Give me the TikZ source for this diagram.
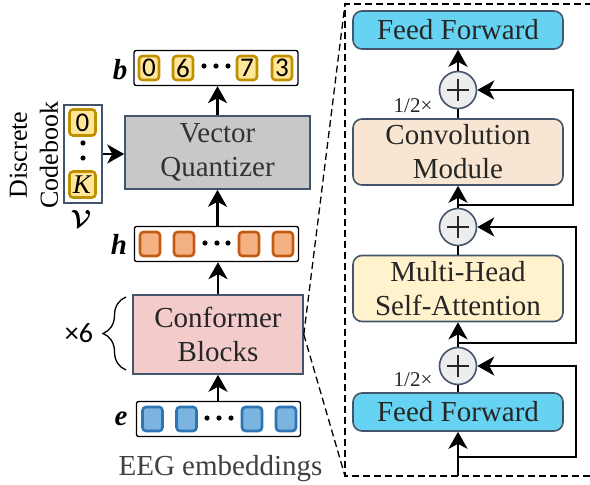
\documentclass[tikz,border=0pt]{standalone}
\usepackage{fontspec}
\usepackage{amsmath,bm}
\setmainfont{Liberation Serif}
\newfontfamily\digitfont{Carlito}
\usetikzlibrary{arrows.meta,decorations.pathreplacing,positioning}

\definecolor{edgeblue}{HTML}{44546A}
\definecolor{txtdark}{HTML}{262626}
\definecolor{ffcyan}{HTML}{66D3F3}
\definecolor{convpeach}{HTML}{F8E6D2}
\definecolor{attnyellow}{HTML}{FFF2CC}
\definecolor{vqgray}{HTML}{C8C8C8}
\definecolor{confpink}{HTML}{F3CBCB}
\definecolor{sumgray}{HTML}{EDEDED}
\definecolor{goldfill}{HTML}{FFE699}
\definecolor{goldedge}{HTML}{BF9000}
\definecolor{orafill}{HTML}{F4B183}
\definecolor{oraedge}{HTML}{C55A11}
\definecolor{bluefill}{HTML}{7AB4DF}
\definecolor{blueedge}{HTML}{2E75B6}

\newcommand\bigfont{\fontsize{29}{34}\selectfont}
\newcommand\tokfont{\digitfont\fontsize{27}{30}\selectfont}

\begin{document}
\begin{tikzpicture}[x=1pt,y=-1pt,
    flow/.style={-{Stealth[length=17pt,width=19pt,inset=5pt]}, line width=2.6pt},
    link/.style={line width=2.2pt},
    block/.style={draw=edgeblue, line width=1.6pt, align=center, inner sep=0pt, font=\bigfont, text=txtdark},
    modbox/.style={block, rounded corners=9pt, minimum width=210pt},
    ffbox/.style={modbox, fill=ffcyan, minimum height=38pt},
    convbox/.style={modbox, fill=convpeach, minimum height=66pt},
    attnbox/.style={modbox, fill=attnyellow, minimum height=66pt},
    sumc/.style={circle, draw=edgeblue, fill=sumgray, line width=1.6pt, minimum size=37pt, inner sep=0pt,
        path picture={\draw[line width=1.1pt, txtdark] (path picture bounding box.center) +(-11pt,0) -- +(11pt,0) +(0,-11pt) -- +(0,11pt);}},
    rowbox/.style={draw=black, line width=1.3pt, rounded corners=2pt, minimum width=164pt, minimum height=35pt, inner sep=0pt},
    tok/.style={rounded corners=3.5pt, line width=2.6pt, minimum width=20pt, minimum height=24pt, inner sep=0pt},
    goldtok/.style={tok, draw=goldedge, fill=goldfill, font=\tokfont},
    oratok/.style={tok, draw=oraedge, fill=orafill},
    bluetok/.style={tok, draw=blueedge, fill=bluefill},
    zoomline/.style={line width=1.3pt, dash pattern=on 7pt off 4pt}]

    \useasboundingbox (0,0) rectangle (590,485);

    % 虚线框的四个角
    \coordinate (dtl) at (345,4);
    \coordinate (dbl) at (345,476);
    \coordinate (dtr) at (592,4);
    \coordinate (dbr) at (592,476);

    % === 左侧：主干 ===
    \node[block, fill=confpink, minimum width=170pt, minimum height=79pt] (conf) at (218,334.5) {Conformer\\Blocks};
    \node[block, fill=vqgray, minimum width=185pt, minimum height=73pt, text=black!80] (vq) at (217.5,152.5) {Vector\\Quantizer};

    % 放大虚线
    \draw[zoomline] (dtr) -- (dtl) -- (dbl) -- (dbr);
    \draw[zoomline] (conf.east) -- (dtl);
    \draw[zoomline] (conf.east) -- (dbl);

    % 三行向量
    \node[rowbox] (brow) at (216,68) {};
    \node[rowbox] (hrow) at (216.5,244) {};
    \node[rowbox] (erow) at (218.5,419) {};
    \foreach \x/\d [count=\i] in {149/0,183/6,247/7,282/3}
        \node[goldtok] (b\i) at (\x,68) {\d};
    \foreach \x [count=\i] in {150,184,249,283}
        \node[oratok] (h\i) at (\x,244) {};
    \foreach \x [count=\i] in {152.5,186.5,252,286}
        \node[bluetok] (e\i) at (\x,419) {};
    \foreach \x in {204,216,228} \fill (\x,66) circle (2.6pt);
    \foreach \x in {205,217,228} \fill (\x,243) circle (2.6pt);
    \foreach \x in {207,219,231} \fill (\x,418) circle (2.6pt);

    \node[font=\bigfont] (blab) at (120,70) {\textbf{\textit{b}}};
    \node[font=\bigfont] (hlab) at (119,244) {\textbf{\textit{h}}};
    \node[font=\bigfont] (elab) at (121,419) {\textbf{\textit{e}}};
    \node[font=\bigfont, text=black!75, anchor=base] (eeg) at (220.5,475) {EEG embeddings};

    % 码本
    \node[draw=edgeblue, line width=1.4pt, minimum width=38pt, minimum height=98pt, inner sep=0pt] (book) at (83,154) {};
    \node[goldtok, minimum width=26pt, minimum height=26pt, font=\fontsize{27}{30}\selectfont] (c0) at (82.5,122.5) {\digitfont 0};
    \node[goldtok, minimum width=26pt, minimum height=26pt, font=\fontsize{27}{30}\selectfont] (cK) at (82.5,184.5) {\textit{K}};
    \fill (83,143) circle (2.6pt);
    \fill (83,158) circle (2.6pt);
    \node[rotate=90, align=center, font=\fontsize{26}{31}\selectfont] (booklab) at (34,155) {Discrete\\Codebook};
    \node[font=\fontsize{29}{30}\selectfont] (vlab) at (81,219) {$\boldsymbol{\mathcal{V}}$};

    % ×6 括号
    \draw[decorate, decoration={brace, amplitude=23pt}, line width=1.3pt] (126,370) -- (126,297);
    \node[font=\digitfont\fontsize{28}{30}\selectfont] (times) at (79,333) {×6};

    % 左侧箭头
    \draw[flow] (erow.north -| conf.south) -- (conf.south);
    \draw[flow] (conf.north) -- (conf.north |- hrow.south);
    \draw[flow] (hrow.north -| vq.south) -- (vq.south);
    \draw[flow] (vq.north) -- (vq.north |- brow.south);
    \draw[flow] (book.east) -- (book.east -| vq.west);

    % === 右侧：Conformer 块内部 ===
    \node[ffbox] (ff1) at (458,412) {Feed Forward};
    \node[sumc] (add1) at (458,366) {};
    \node[attnbox] (attn) at (458,288.5) {Multi-Head\\Self-Attention};
    \node[sumc] (add2) at (458,227) {};
    \node[convbox] (conv) at (458,152) {Convolution\\Module};
    \node[sumc] (add3) at (458,90) {};
    \node[ffbox] (ff2) at (458,30) {Feed Forward};

    \node[font=\fontsize{21}{24}\selectfont, text=txtdark] (half1) at (413,380) {1/2×};
    \node[font=\fontsize{21}{24}\selectfont, text=txtdark] (half3) at (413,106) {1/2×};

    % 主路径
    \coordinate (in) at (458,476);
    \draw[flow] (in) -- (ff1);
    \draw[link] (ff1) -- (add1);
    \draw[flow] (add1) -- (attn);
    \draw[link] (attn) -- (add2);
    \draw[flow] (add2) -- (conv);
    \draw[link] (conv) -- (add3);
    \draw[flow] (add3) -- (ff2);

    % 残差连接
    \coordinate (r1) at (458,457);
    \coordinate (r1a) at (576,457);
    \coordinate (r1b) at (576,366);
    \draw[flow] (r1) -- (r1a) -- (r1b) -- (add1);
    \coordinate (r2) at (458,343);
    \coordinate (r2a) at (576,343);
    \coordinate (r2b) at (576,227);
    \draw[flow] (r2) -- (r2a) -- (r2b) -- (add2);
    \coordinate (r3) at (458,205);
    \coordinate (r3a) at (573,205);
    \coordinate (r3b) at (573,90);
    \draw[flow] (r3) -- (r3a) -- (r3b) -- (add3);
\end{tikzpicture}
\end{document}
